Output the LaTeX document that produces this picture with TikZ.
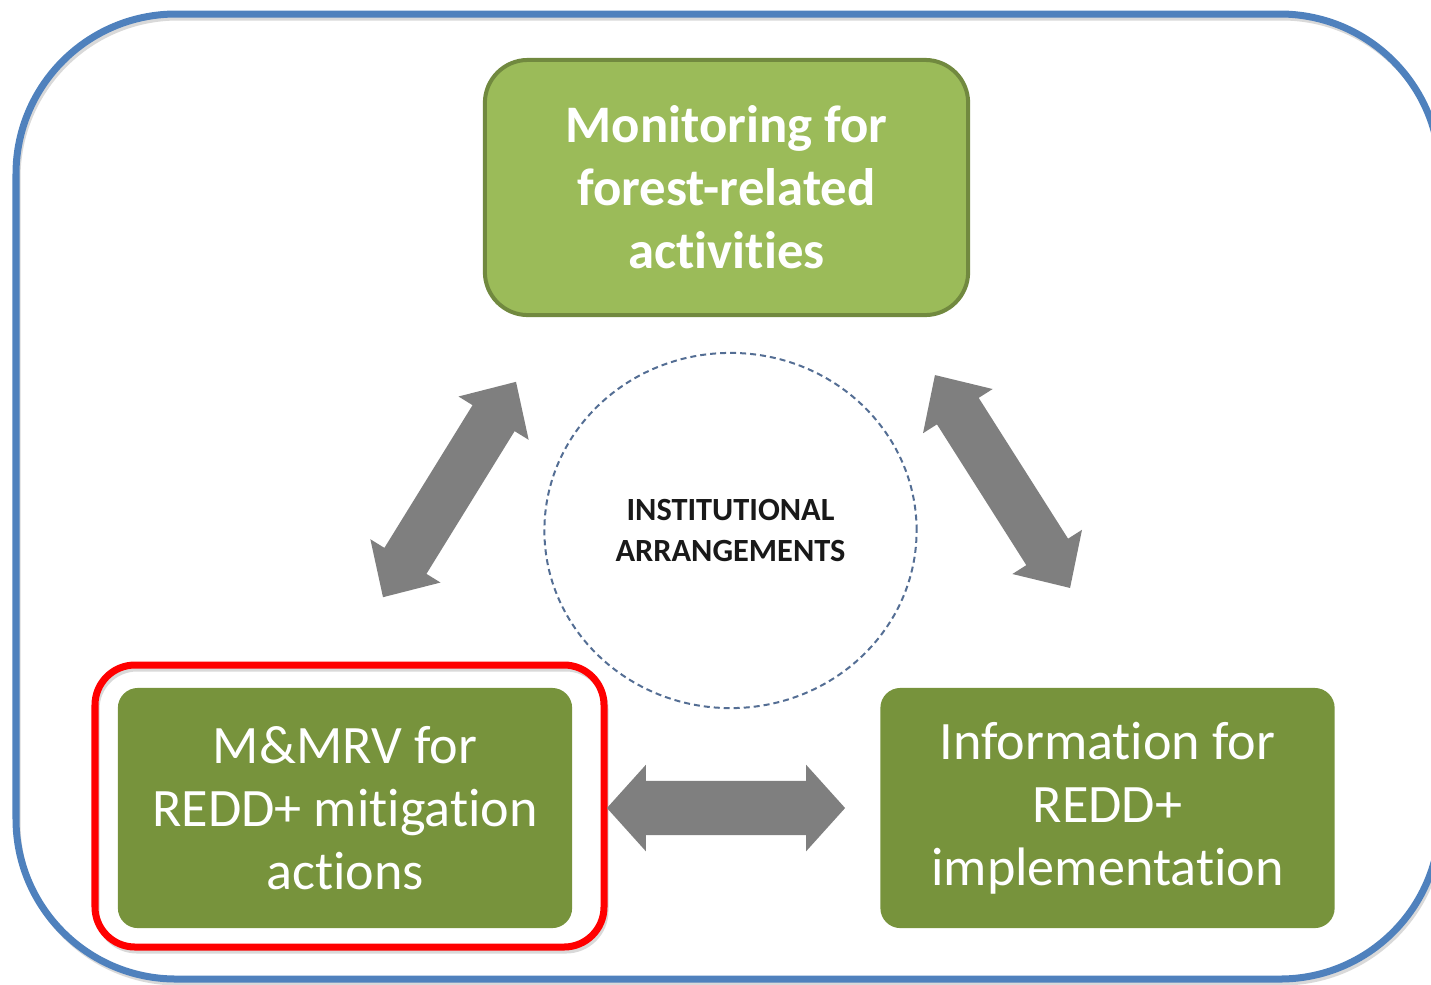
\documentclass[tikz,border=0pt]{standalone}
\usepackage{fontspec}
\setmainfont{Carlito}[Ligatures=NoCommon]
\usetikzlibrary{positioning,calc}
\usetikzlibrary{shapes.geometric,shapes.arrows}
\definecolor{frameblue}{RGB}{79,129,189}
\definecolor{leafgreen}{RGB}{155,187,89}
\definecolor{leafrim}{RGB}{113,137,63}
\definecolor{olivegreen}{RGB}{119,147,60}
\definecolor{arrowgray}{RGB}{127,127,127}
\definecolor{dashblue}{RGB}{84,110,148}
\tikzstyle{topbox} = [rectangle, rounded corners=0.43cm, minimum width=4.83cm, minimum height=2.55cm, fill=leafgreen, draw=leafrim, line width=0.04cm, text=white, align=center, font=\fontsize{15}{17.9}\selectfont\bfseries]
\tikzstyle{lowbox} = [rectangle, rounded corners=0.2cm, minimum width=4.54cm, minimum height=2.4cm, fill=olivegreen, text=white, align=center, font=\fontsize{15.4}{17.9}\selectfont]
\tikzstyle{dblarrow} = [double arrow, fill=arrowgray, inner xsep=0pt, inner ysep=0.24cm, double arrow head extend=0.165cm, double arrow tip angle=88]
\tikzstyle{softshadow} = [black!15, line width=0.05cm]

\begin{document}
\begin{tikzpicture}[x=0.01cm, y=-0.01cm]
\useasboundingbox (0,0) rectangle (1431,984);
% outer frame
\draw[softshadow, rounded corners=1.6cm] (18,18) rectangle (1442,983);
\draw[frameblue, line width=0.07cm, rounded corners=1.6cm] (16,14) rectangle (1440,979);
% boxes
\node[topbox] (mon) at (726.5,187.5) {Monitoring for\\forest-related\\activities};
\node[lowbox] (mmrv) at (345,808) {M\&MRV for\\REDD+ mitigation\\actions};
\node[lowbox] (info) at (1107.5,808) {Information for\\REDD+\\implementation};
\draw[softshadow, rounded corners=0.4cm] (97,669) rectangle (606,951);
\draw[red, line width=0.07cm, rounded corners=0.4cm] (95,665) rectangle (604,947);
% centre
\node[ellipse, draw=dashblue, line width=0.02cm, dash pattern=on 0.06cm off 0.04cm, minimum width=3.72cm, minimum height=3.55cm, inner sep=0pt, align=center, text=black!90, font=\fontsize{9.2}{11.4}\selectfont\bfseries] (inst) at (730.5,530.5) {INSTITUTIONAL\\ARRANGEMENTS};
% block arrows
\node[dblarrow, minimum height=2.53cm, rotate=58.3] (upleft) at (449.5,489.5) {};
\node[dblarrow, minimum height=2.52cm, rotate=-57.6] (upright) at (1002.5,481.5) {};
\node[dblarrow, minimum height=2.38cm, inner ysep=0.265cm, double arrow head extend=0.16cm, double arrow tip angle=96] (across) at (726,808) {};
\end{tikzpicture}
\end{document}
